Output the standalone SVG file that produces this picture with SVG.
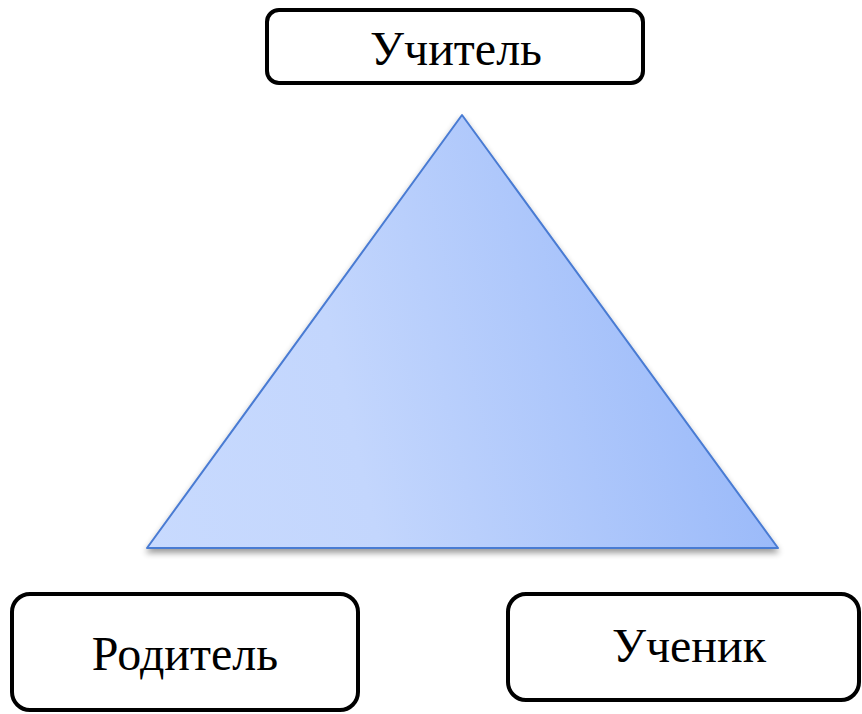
<svg xmlns="http://www.w3.org/2000/svg" width="862" height="714" viewBox="0 0 862 714">
<style>
.box{fill:#fff;stroke:#000;stroke-width:4}
.lbl{font-family:"Liberation Serif","Times New Roman",serif;font-size:48px;fill:#000;text-anchor:middle}
</style>
<defs>
<linearGradient id="g" x1="147" y1="548" x2="778" y2="400" gradientUnits="userSpaceOnUse">
<stop offset="0" stop-color="#c8dafe"/>
<stop offset="0.35" stop-color="#c3d6fd"/>
<stop offset="1" stop-color="#98b8f9"/>
</linearGradient>
<filter id="sh" x="-10%" y="-10%" width="120%" height="130%">
<feGaussianBlur in="SourceAlpha" stdDeviation="3"/>
<feOffset dy="4" result="b"/>
<feComponentTransfer><feFuncA type="linear" slope="0.4"/></feComponentTransfer>
<feMerge><feMergeNode/><feMergeNode in="SourceGraphic"/></feMerge>
</filter>
</defs>
<g id="triangle">
<polygon points="462,115 778,548 147,548" fill="url(#g)" stroke="#4a7bd3" stroke-width="2" stroke-linejoin="round" filter="url(#sh)"/>
</g>
<g id="teacher">
<rect class="box" x="267" y="10" width="376" height="73" rx="12"/>
<text class="lbl" x="456" y="65">Учитель</text>
</g>
<g id="parent">
<rect class="box" x="12" y="594" width="346" height="116" rx="18"/>
<text class="lbl" x="185" y="670">Родитель</text>
</g>
<g id="student">
<rect class="box" x="508" y="594" width="351" height="106" rx="18"/>
<text class="lbl" x="689" y="662">Ученик</text>
</g>
<g id="connectors"/>
</svg>
